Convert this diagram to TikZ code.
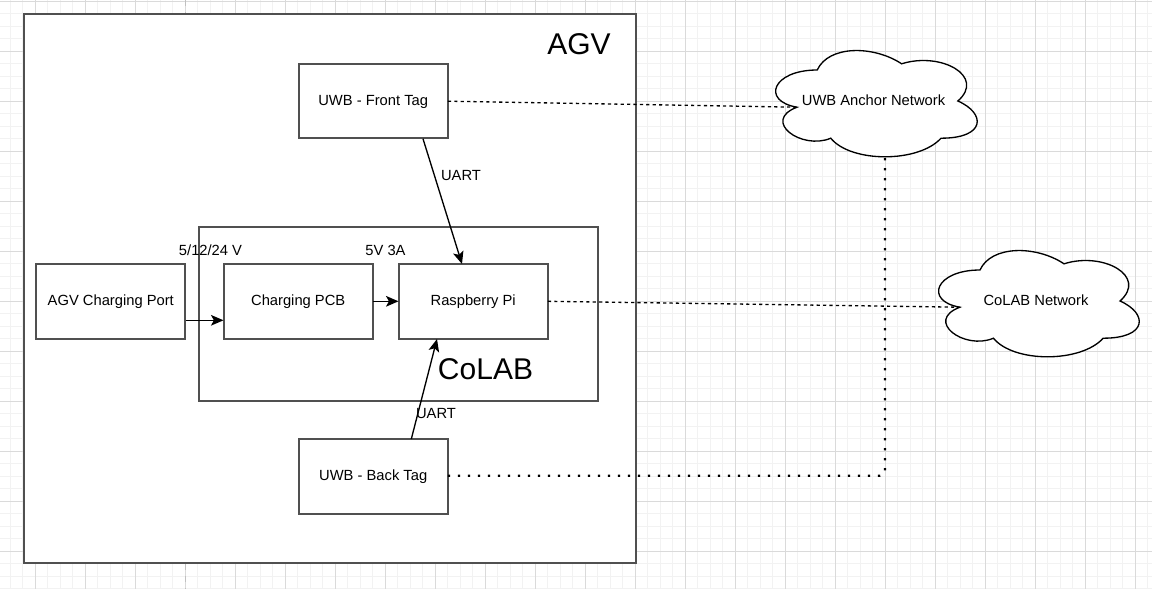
\documentclass[tikz,border=0pt]{standalone}
\usepackage{fontspec}
\setmainfont{Liberation Sans}
\usetikzlibrary{arrows.meta}
\definecolor{gridmajor}{HTML}{DADADA}
\definecolor{gridminor}{HTML}{F2F2F2}
\definecolor{pagebreak}{HTML}{C0C0C0}
\definecolor{boxline}{HTML}{505050}
\tikzset{
  gridminorline/.style={draw=gridminor,line width=0.75pt},
  gridmajorline/.style={draw=gridmajor,line width=0.75pt},
  pxbox/.style={draw=boxline,line width=1.5pt,fill=white,inner sep=0pt,outer sep=0pt,
    minimum width=112pt,minimum height=55.8pt,font=\fontsize{11.05pt}{13pt}\selectfont,text=black,
    text height=9pt,text depth=2.5pt},
  bigbox/.style={draw=boxline,line width=1.5pt,fill=white,inner sep=0pt,outer sep=0pt},
  smalltext/.style={inner sep=0pt,font=\fontsize{11.05pt}{13pt}\selectfont,text=black,
    text height=9pt,text depth=2.5pt},
  bigtext/.style={inner sep=0pt,font=\fontsize{22.5pt}{26pt}\selectfont,text=black},
  cloudline/.style={draw=black,line width=1pt,fill=white},
  solidarrow/.style={draw=black,line width=1pt,-{Stealth[length=9.4pt,width=8pt,inset=2.2pt]}},
  dashconn/.style={draw=black,line width=1pt,dash pattern=on 2.4pt off 2.4pt},
  dotconn/.style={draw=black,line width=1.7pt,dash pattern=on 1.7pt off 5.8pt},
}
\newcommand{\drawcloud}[4]{%
  \begin{scope}[shift={(#1,#2)},x=#3*0.75pt,y=-#4*0.75pt]
    \path[cloudline] (0.25,0.25)
      .. controls (0.05,0.25) and (0,0.5) .. (0.16,0.55)
      .. controls (0,0.66) and (0.18,0.9) .. (0.31,0.8)
      .. controls (0.4,1) and (0.7,1) .. (0.8,0.8)
      .. controls (1,0.8) and (1,0.6) .. (0.875,0.5)
      .. controls (1,0.3) and (0.8,0.1) .. (0.625,0.2)
      .. controls (0.5,0.05) and (0.3,0.05) .. (0.25,0.25) -- cycle;
  \end{scope}}
\begin{document}
\begin{tikzpicture}[x=0.75pt,y=-0.75pt]
\useasboundingbox (0,0) rectangle (1152,589);
\fill[white] (0,0) rectangle (1152,589);
% grid
\foreach \i in {0,...,91} {\draw[gridminorline] ({10+12.5*\i},0) -- ({10+12.5*\i},589);}
\foreach \i in {0,...,47} {\draw[gridminorline] (0,{1+12.5*\i}) -- (1152,{1+12.5*\i});}
\foreach \i in {0,...,22} {\draw[gridmajorline] ({35+50*\i},0) -- ({35+50*\i},589);}
\foreach \i in {0,...,11} {\draw[gridmajorline] (0,{1+50*\i}) -- (1152,{1+50*\i});}
\draw[pagebreak,line width=1.1pt,dash pattern=on 4.5pt off 4.5pt] (185.5,0) -- (185.5,589);
% containers
\node[bigbox,minimum width=459pt,minimum height=411.6pt] (agv) at (329.5,288.6) {};
\node[bigtext] (agvlabel) at (579,44.5) {AGV};
\node[draw=boxline,line width=1.3pt,inner sep=0pt,outer sep=0pt,minimum width=299.2pt,minimum height=130.9pt] (colab) at (398.6,313.9) {};
\node[bigtext] (colablabel) at (485.5,369.5) {CoLAB};
% clouds
\drawcloud{761}{39}{225}{124}
\node[smalltext] (anchornet) at (873.5,101) {UWB Anchor Network};
\coordinate (anchorin) at (797,107.2);
\coordinate (anchorbottom) at (885,158);
\drawcloud{924}{239}{224}{124}
\node[smalltext] (colabnet) at (1036,301) {CoLAB Network};
\coordinate (colabin) at (960,307.2);
% boxes
\node[pxbox] (front) at (373.2,101.2) {UWB - Front Tag};
\node[pxbox] (port) at (110.8,301.3) {AGV Charging Port};
\node[pxbox] (pcb) at (298.2,301.3) {Charging PCB};
\node[pxbox] (pi) at (473.2,301.3) {Raspberry Pi};
\node[pxbox] (back) at (373.2,476.3) {UWB - Back Tag};
% helper points on box borders
\coordinate (frontuart) at (423,138.8);
\coordinate (piuarttop) at (462,264);
\coordinate (backuart) at (411.3,439);
\coordinate (piuartbot) at (437,339);
\coordinate (portout) at (186,320.3);
\coordinate (pcbin) at (223.5,320.3);
\coordinate (backcorner) at (885,475.7);
% connectors
\draw[solidarrow] (frontuart) -- (piuarttop);
\draw[solidarrow] (backuart) -- (piuartbot);
\draw[solidarrow] (portout) -- (pcbin);
\draw[solidarrow] (pcb.east) -- (pi.west);
\draw[dashconn] (front.east) -- (anchorin);
\draw[dashconn] (pi.east) -- (colabin);
\draw[dotconn,rounded corners=3.75pt] (back.east |- backcorner) -- (backcorner) -- (anchorbottom);
% labels
\node[smalltext] (v1) at (210.5,251) {5/12/24 V};
\node[smalltext] (v2) at (385.5,251) {5V 3A};
\node[smalltext] (uart1) at (461,176) {UART};
\node[smalltext] (uart2) at (436,414) {UART};
\end{tikzpicture}
\end{document}
